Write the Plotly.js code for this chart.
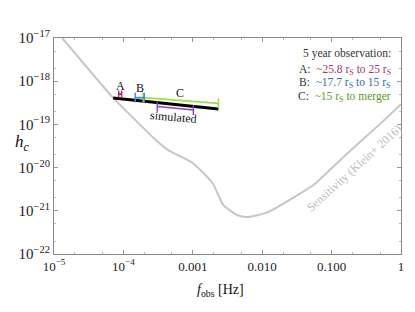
<!DOCTYPE html>
<html>
<head>
<meta charset="utf-8">
<script src="https://cdn.plot.ly/plotly-3.0.1.min.js"></script>
<style>html,body{margin:0;padding:0;background:#fff;}#chart{width:415px;height:312px;}</style>
</head>
<body>
<div id="chart"></div>
<script>
// Sensitivity curve (Klein+ 2016)
const sensFreq = [1.31e-5, 4.62e-5, 7.13e-5, 1.93e-4, 2.70e-4, 4.30e-4, 9.86e-4, 1.92e-3, 2.77e-3, 4.42e-3, 6.15e-3, 1.20e-2, 3.59e-2, 5.53e-2, 0.171, 0.514, 1.0];
const sensH    = [1.0e-17, 9.1e-19, 4.1e-19, 8.3e-20, 4.9e-20, 2.6e-20, 1.29e-20, 4.4e-21, 1.35e-21, 7.9e-22, 7.2e-22, 9.3e-22, 2.57e-21, 4.0e-21, 2.19e-20, 1.07e-19, 2.95e-19];
// Simulated waveform track (black)
const simFreq = [7.12e-5, 2.34e-3];
const simH    = [4.08e-19, 2.27e-19];
// Segment A (~25.8 rS to 25 rS)
const aFreq = [8.55e-5, 9.45e-5];
const aH    = [5.06e-19, 5.06e-19];
// Segment B (~17.7 rS to 15 rS)
const bFreq = [1.48e-4, 2.0e-4];
const bH    = [4.15e-19, 4.15e-19];
// Segment C (~15 rS to merger)
const cFreq = [1.93e-4, 2.34e-3];
const cH    = [4.15e-19, 3.08e-19];
// "simulated" range
const simRangeFreq = [3.08e-4, 1.02e-3];
const simRangeH    = [2.58e-19, 2.15e-19];

const xTickVals = [1e-5, 1e-4, 1e-3, 1e-2, 1e-1, 1];
const xTickText = ['10<sup>\u22125</sup>', '10<sup>\u22124</sup>', '0.001', '0.010', '0.100', '1'];
const yTickVals = [1e-22, 1e-21, 1e-20, 1e-19, 1e-18, 1e-17];
const yTickText = ['10<sup>\u221222</sup>', '10<sup>\u221221</sup>', '10<sup>\u221220</sup>', '10<sup>\u221219</sup>', '10<sup>\u221218</sup>', '10<sup>\u221217</sup>'];

const serif = '"Liberation Serif", "Times New Roman", "DejaVu Serif", serif';

const capMarker = (c) => ({symbol: 'line-ns-open', size: 7, line: {color: c, width: 1.5}});

const traces = [
  {x: sensFreq, y: sensH, mode: 'lines', line: {color: '#c6c6c6', width: 2, shape: 'spline', smoothing: 0.6}, hoverinfo: 'skip'},
  {x: simFreq, y: simH, mode: 'lines', line: {color: '#000', width: 3}},
  {x: cFreq, y: cH, mode: 'lines+markers', line: {color: '#9ee03c', width: 1.8}, marker: capMarker('#9ee03c')},
  {x: bFreq, y: bH, mode: 'lines+markers', line: {color: '#3a8fd0', width: 1.8}, marker: capMarker('#3a8fd0')},
  {x: aFreq, y: aH, mode: 'lines+markers', line: {color: '#b03a7a', width: 2.5}, marker: {symbol: 'line-ns-open', size: 5, line: {color: '#b03a7a', width: 1.5}}},
  {x: simRangeFreq, y: simRangeH, mode: 'lines+markers', line: {color: '#8a44c4', width: 1.5}, marker: capMarker('#8a44c4')}
];

const ann = (x, y, text, opts) => Object.assign({xref: 'paper', yref: 'paper', x: x, y: y, xanchor: 'center', yanchor: 'middle', text: text, showarrow: false, font: {family: serif, size: 12, color: '#222'}}, opts || {});

const layout = {
  width: 415, height: 312,
  margin: {l: 54, r: 14, t: 38, b: 58},
  paper_bgcolor: '#fff', plot_bgcolor: '#fff',
  showlegend: false,
  font: {family: serif, color: '#222'},
  xaxis: {
    type: 'log', range: [-5, 0], tickvals: xTickVals, ticktext: xTickText,
    ticks: 'inside', ticklen: 4, tickcolor: '#999', showgrid: false, zeroline: false,
    showline: true, linecolor: '#888', linewidth: 1, mirror: 'ticks',
    tickfont: {family: serif, size: 13, color: '#222'},
    minor: {ticks: 'inside', ticklen: 2, tickcolor: '#bbb', showgrid: false}
  },
  yaxis: {
    type: 'log', range: [-22, -17], tickvals: yTickVals, ticktext: yTickText,
    ticks: 'inside', ticklen: 4, tickcolor: '#999', showgrid: false, zeroline: false,
    showline: true, linecolor: '#888', linewidth: 1, mirror: 'ticks',
    tickfont: {family: serif, size: 15, color: '#222'},
    minor: {ticks: 'inside', ticklen: 2, tickcolor: '#bbb', showgrid: false}
  },
  annotations: [
    ann(-0.092, 0.512, '<i>h<sub>c</sub></i>', {font: {family: serif, size: 17, color: '#111'}}),
    ann(0.48, -0.167, '<i>f</i><sub>obs</sub> [Hz]', {font: {family: serif, size: 14, color: '#111'}}),
    ann(0.193, 0.778, 'A', {font: {family: serif, size: 12, color: '#111'}}),
    ann(0.248, 0.769, 'B', {font: {family: serif, size: 12, color: '#111'}}),
    ann(0.363, 0.745, 'C', {font: {family: serif, size: 12, color: '#111'}}),
    ann(0.344, 0.633, 'simulated', {textangle: 5, font: {family: serif, size: 12, color: '#111'}}),
    ann(0.977, 0.926, '5 year observation:', {xanchor: 'right', font: {family: serif, size: 11.5, color: '#333'}}),
    ann(0.977, 0.852, 'A:  <span style="color:#a8346f">~25.8 r<sub>S</sub> to 25 r<sub>S</sub></span>', {xanchor: 'right', font: {family: serif, size: 11.5, color: '#333'}}),
    ann(0.977, 0.790, 'B:  <span style="color:#2f6ea6">~17.7 r<sub>S</sub> to 15 r<sub>S</sub></span>', {xanchor: 'right', font: {family: serif, size: 11.5, color: '#333'}}),
    ann(0.977, 0.727, 'C:  <span style="color:#5a9a1e">~15 r<sub>S</sub> to merger</span>', {xanchor: 'right', font: {family: serif, size: 11.5, color: '#333'}}),
    ann(0.866, 0.396, 'Sensitivity (Klein+ 2016)', {textangle: -42, font: {family: serif, size: 12, color: '#bdbdbd'}})
  ]
};

Plotly.newPlot('chart', traces, layout, {staticPlot: true, displayModeBar: false});
</script>
</body>
</html>
